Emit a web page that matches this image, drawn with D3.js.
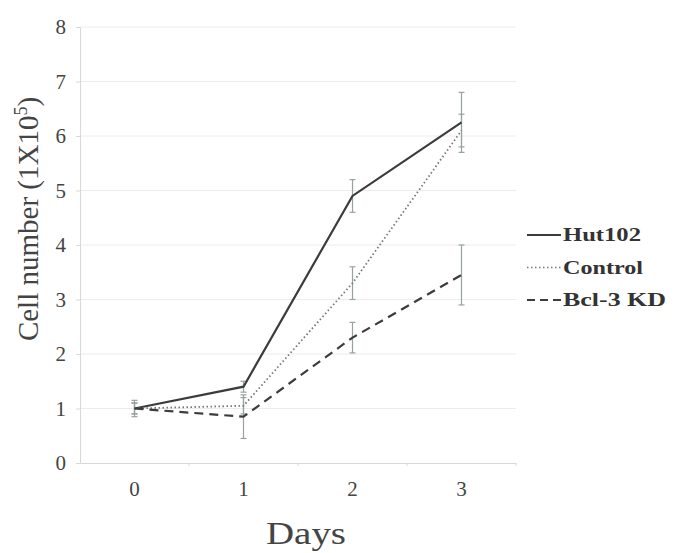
<!DOCTYPE html>
<html>
<head>
<meta charset="utf-8">
<script src="https://cdn.jsdelivr.net/npm/d3@7"></script>
<style>
  body { margin: 0; background: #fff; }
  svg { font-family: "Liberation Serif", "DejaVu Serif", serif; }
</style>
</head>
<body>
<div id="chart"></div>
<script>
// data
var days = ["0", "1", "2", "3"];
var hut102 = [1.0, 1.4, 4.9, 6.25];
var hut102Err = [0.15, 0.1, 0.3, 0.55];
var control = [1.0, 1.05, 3.3, 6.1];
var controlErr = [0.1, 0.15, 0.3, 0.3];
var bcl3kd = [1.0, 0.85, 2.3, 3.45];
var bcl3kdErr = [0.1, 0.4, 0.28, 0.55];
var yTicks = [0, 1, 2, 3, 4, 5, 6, 7, 8];

var series = [
  {name: "Hut102", values: hut102, err: hut102Err, dash: null, width: 2.2, textLen: 78},
  {name: "Control", values: control, err: controlErr, dash: "1.5,2.5", width: 1.8, textLen: 80},
  {name: "Bcl-3 KD", values: bcl3kd, err: bcl3kdErr, dash: "9,6", width: 2.2, textLen: 103}
];

// set the dimensions and margins of the graph
var margin = {top: 27, right: 162, bottom: 90, left: 80},
    width = 678 - margin.left - margin.right,
    height = 553 - margin.top - margin.bottom;

var svg = d3.select("#chart")
  .append("svg")
    .attr("width", 678)
    .attr("height", 553)
  .append("g")
    .attr("transform", "translate(" + margin.left + "," + margin.top + ")");

var x = d3.scaleBand()
  .domain(days)
  .range([0, width]);

var y = d3.scaleLinear()
  .domain([0, 8])
  .range([height, 0]);

// gridlines
svg.append("g")
  .selectAll("line")
  .data(yTicks.slice(1))
  .enter().append("line")
    .attr("x1", 0)
    .attr("x2", width)
    .attr("y1", function(d) { return y(d); })
    .attr("y2", function(d) { return y(d); })
    .attr("stroke", "#ececec")
    .attr("stroke-width", 1);

// Y axis
var yAxis = svg.append("g")
  .call(d3.axisLeft(y).tickValues(yTicks).tickSize(4).tickPadding(10))
  .attr("font-family", null);
yAxis.select(".domain").attr("stroke", "#d8d8d8");
yAxis.selectAll(".tick line").attr("stroke", "#d8d8d8");
yAxis.selectAll("text")
  .attr("fill", "#444")
  .style("font-size", "21px");

// X axis, tick marks sit between the categories
var xAxis = svg.append("g")
  .attr("transform", "translate(0," + height + ")")
  .call(d3.axisBottom(x).tickSize(0).tickPadding(18))
  .attr("font-family", null);
xAxis.select(".domain").attr("stroke", "#d8d8d8");
xAxis.selectAll("text")
  .attr("fill", "#444")
  .style("font-size", "21px");
svg.append("g")
  .selectAll("line")
  .data(days)
  .enter().append("line")
    .attr("x1", function(d) { return x(d) + x.bandwidth(); })
    .attr("x2", function(d) { return x(d) + x.bandwidth(); })
    .attr("y1", height)
    .attr("y2", height + 3)
    .attr("stroke", "#d8d8d8");

// axis titles
svg.append("text")
  .attr("x", 186)
  .attr("y", height + 81)
  .attr("textLength", 80)
  .attr("lengthAdjust", "spacingAndGlyphs")
  .attr("fill", "#444")
  .style("font-size", "32px")
  .text("Days");

var ylab = svg.append("text")
  .attr("transform", "rotate(-90)")
  .attr("x", -192)
  .attr("y", -42)
  .attr("text-anchor", "middle")
  .attr("fill", "#444")
  .style("font-size", "29px");
ylab.append("tspan").text("Cell number (1X10");
ylab.append("tspan").attr("dy", -11).style("font-size", "18px").text("5");
ylab.append("tspan").attr("dy", 11).text(")");

var cx = function(i) { return x(days[i]) + x.bandwidth() / 2; };

// error bars
series.forEach(function(s) {
  var eb = svg.append("g")
    .selectAll("g")
    .data(s.values)
    .enter().append("g");
  eb.append("line")
    .attr("x1", function(d, i) { return cx(i); })
    .attr("x2", function(d, i) { return cx(i); })
    .attr("y1", function(d, i) { return y(d - s.err[i]); })
    .attr("y2", function(d, i) { return y(d + s.err[i]); })
    .attr("stroke", "#98a0a0")
    .attr("stroke-width", 1.2);
  [-1, 1].forEach(function(sign) {
    eb.append("line")
      .attr("x1", function(d, i) { return cx(i) - 3; })
      .attr("x2", function(d, i) { return cx(i) + 3; })
      .attr("y1", function(d, i) { return y(d + sign * s.err[i]); })
      .attr("y2", function(d, i) { return y(d + sign * s.err[i]); })
      .attr("stroke", "#98a0a0")
      .attr("stroke-width", 1.2);
  });
});

// lines
var line = d3.line()
  .x(function(d, i) { return cx(i); })
  .y(function(d) { return y(d); });

series.forEach(function(s) {
  svg.append("path")
    .datum(s.values)
    .attr("fill", "none")
    .attr("stroke", s.name == "Control" ? "#777" : "#3c3c3c")
    .attr("stroke-width", s.width)
    .attr("stroke-dasharray", s.dash)
    .attr("d", line);
});

// legend
var legend = svg.append("g")
  .attr("transform", "translate(" + (width + 11) + ",208)");
series.forEach(function(s, i) {
  var g = legend.append("g").attr("transform", "translate(0," + (i * 32.5) + ")");
  g.append("line")
    .attr("x1", 0)
    .attr("x2", 34)
    .attr("y1", 0)
    .attr("y2", 0)
    .attr("stroke", s.name == "Control" ? "#777" : "#3c3c3c")
    .attr("stroke-width", s.name == "Control" ? 1.5 : 2)
    .attr("stroke-dasharray", s.name == "Bcl-3 KD" ? "8,5" : s.dash);
  g.append("text")
    .attr("x", 36)
    .attr("y", 6)
    .attr("textLength", s.textLen)
    .attr("lengthAdjust", "spacingAndGlyphs")
    .attr("fill", "#333")
    .style("font-size", "18px")
    .style("font-weight", "bold")
    .text(s.name);
});
</script>
</body>
</html>
